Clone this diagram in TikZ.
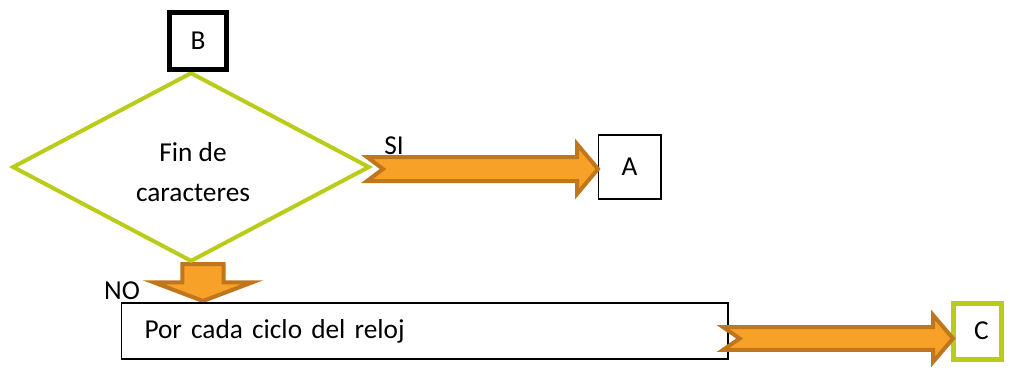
\documentclass[tikz,border=0pt]{standalone}
\usepackage{fontspec}
\setmainfont{Carlito}
\usetikzlibrary{shapes.geometric,calc}
\definecolor{lime}{RGB}{185,204,26}
\definecolor{orfill}{RGB}{248,161,40}
\definecolor{ordraw}{RGB}{192,118,28}
\tikzset{
  txt/.style={font=\fontsize{20.5}{24}\selectfont, inner sep=0pt},
  fat/.style={fill=orfill, draw=ordraw, line width=3pt, line join=miter},
  thinbox/.style={draw=black, line width=1pt, fill=white, inner sep=0pt},
}
% horizontal fat arrow: start, end, shaft half, head half, head length, notch
\newcommand\harrow[6]{%
  \path[fat] let \p1=(#1), \p2=(#2) in
   (\x1,\y1+#3) -- (\x2-#5,\y1+#3) -- (\x2-#5,\y1+#4) -- (\x2,\y1)
   -- (\x2-#5,\y1-#4) -- (\x2-#5,\y1-#3) -- (\x1,\y1-#3) -- (\x1+#6,\y1) -- cycle;}
\begin{document}
\begin{tikzpicture}[x=0.75pt,y=-0.75pt]
\useasboundingbox (0,0) rectangle (1010,371);
% down arrow (drawn first, under diamond)
\coordinate (dtop) at (203,264);
\coordinate (dtip) at (203,301);
\path[fat] let \p1=(dtop), \p2=(dtip) in
  (\x1-15.5pt,\y1) -- (\x1+15.5pt,\y1) -- (\x1+15.5pt,\y2+14pt) -- (\x1+37pt,\y2+14pt)
  -- (\x2,\y2) -- (\x1-37pt,\y2+14pt) -- (\x1-15.5pt,\y2+14pt) -- cycle;
% diamond
\node[diamond, draw=lime, line width=3pt, minimum width=268pt, minimum height=142pt, inner sep=0pt, fill=white] (D) at (191,167) {};
\node[txt, align=center, font=\fontsize{20.5}{30}\selectfont] (Dt) at (193,172) {Fin de\\caracteres};
% B
\node[draw=black, line width=3.75pt, minimum width=43pt, minimum height=43pt, txt, fill=white] (B) at (198,41) {B};
% A
\node[thinbox, txt, minimum width=47pt, minimum height=48pt] (A) at (629.5,167) {A};
% SI arrow
\coordinate (s1) at (367,169);
\coordinate (s2) at (598,169);
\harrow{s1}{s2}{9pt}{18.75pt}{15.75pt}{12pt}
\node[txt, anchor=west] (SI) at (384,146) {SI};
% NO
\node[txt] (NO) at (122,291) {NO};
% big box
\node[thinbox, minimum width=455pt, minimum height=42pt, text width=420pt, inner xsep=16pt, align=left, font=\fontsize{20.5}{24}\selectfont] (P) at (424.5,331) {Por cada ciclo del reloj};
% C
\node[draw=lime, line width=3.75pt, minimum width=36pt, minimum height=42pt, txt, fill=white] (C) at (977.5,331) {\hspace*{6pt}C};
% C arrow
\coordinate (c1) at (723,338.5);
\coordinate (c2) at (953,338.5);
\harrow{c1}{c2}{8.6pt}{17.6pt}{15pt}{12.5pt}
\end{tikzpicture}
\end{document}
